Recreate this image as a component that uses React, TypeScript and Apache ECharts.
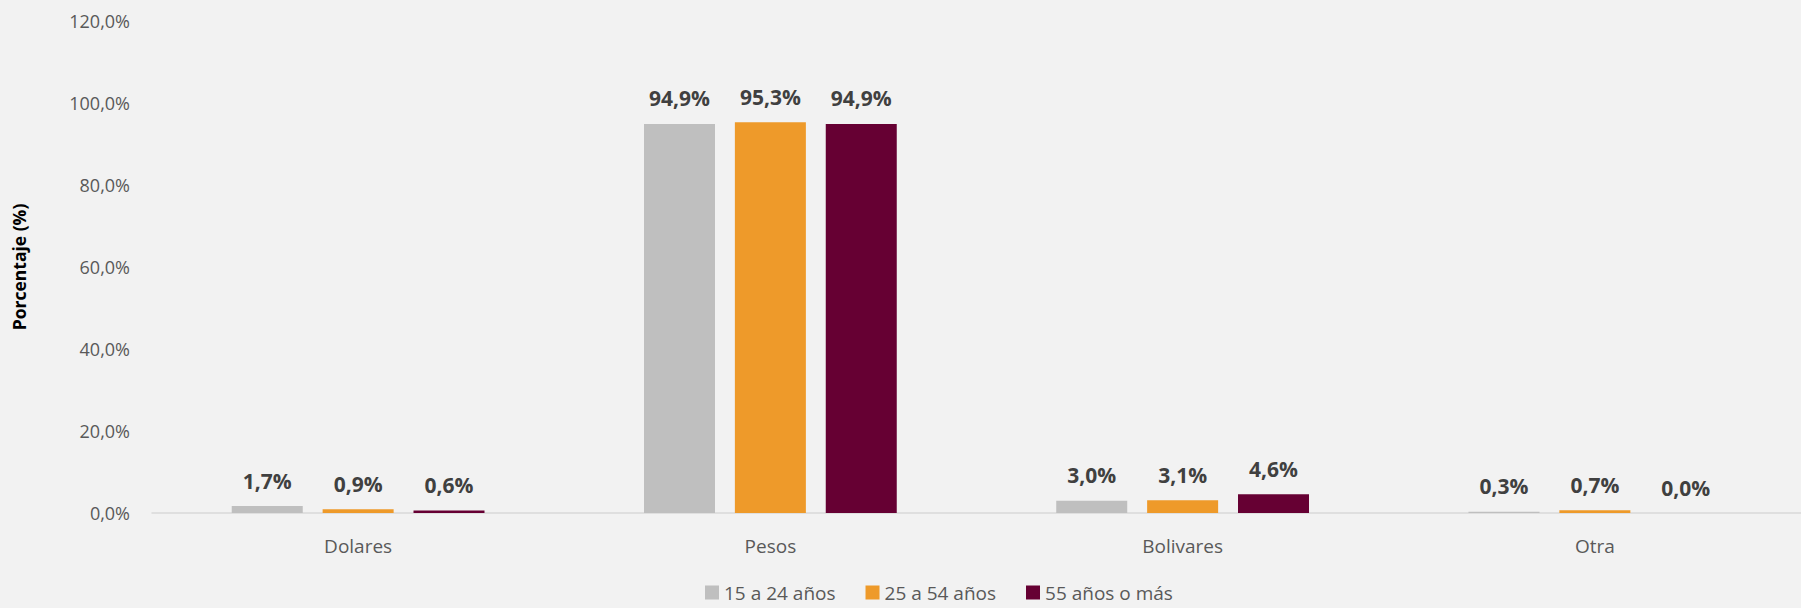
import React, { useEffect, useRef } from "react";
import * as echarts from "echarts";

const categories = ["Dolares", "Pesos", "Bolivares", "Otra"];
const seriesNames = ["15 a 24 años", "25 a 54 años", "55 años o más"];
const values15a24 = [1.7, 94.9, 3.0, 0.3];
const values25a54 = [0.9, 95.3, 3.1, 0.7];
const values55mas = [0.6, 94.9, 4.6, 0.0];
const colors = ["#BFBFBF", "#EE9A2A", "#660033"];

const fmt = (v: number) => v.toFixed(1).replace(".", ",") + "%";

export default function App() {
  const ref = useRef<HTMLDivElement>(null);
  useEffect(() => {
    if (!ref.current) return;
    const chart = echarts.init(ref.current, undefined, { renderer: "svg" });
    const font = "'Open Sans', 'Noto Sans', sans-serif";
    const data = [values15a24, values25a54, values55mas];
    chart.setOption({
      animation: false,
      backgroundColor: "#F2F2F2",
      textStyle: { fontFamily: font },
      grid: { left: 152, right: 0, top: 21, bottom: 95, containLabel: false },
      legend: {
        left: 700,
        bottom: 1,
        itemWidth: 14,
        itemHeight: 14,
        itemGap: 30,
        icon: "rect",
        textStyle: { color: "#595959", fontSize: 19, fontFamily: font },
        data: seriesNames,
      },
      xAxis: {
        type: "category",
        data: categories,
        axisLine: { lineStyle: { color: "#D9D9D9", width: 1.5 } },
        axisTick: { show: false },
        axisLabel: { color: "#595959", fontSize: 19, margin: 23, fontFamily: font },
      },
      yAxis: {
        type: "value",
        min: 0,
        max: 120,
        interval: 20,
        name: "Porcentaje (%)",
        nameLocation: "middle",
        nameGap: 124,
        nameTextStyle: { color: "#000000", fontWeight: "bold", fontSize: 17.5, fontFamily: font },
        axisLine: { show: false },
        axisTick: { show: false },
        splitLine: { show: false },
        axisLabel: { color: "#595959", fontSize: 18, margin: 22, formatter: (v: number) => fmt(v), fontFamily: font },
      },
      series: seriesNames.map((name, i) => ({
        name,
        type: "bar",
        data: data[i],
        barWidth: 71,
        barGap: "28%",
        itemStyle: { color: colors[i] },
        label: {
          show: true,
          position: "top",
          distance: 15,
          color: "#404040",
          fontWeight: "bold",
          fontSize: 21,
          fontFamily: font,
          formatter: (p: any) => fmt(p.value),
        },
      })),
    });
    return () => chart.dispose();
  }, []);
  return (
    <div
      ref={ref}
      style={{ position: "fixed", left: 0, top: 0, width: 1801, height: 608 }}
    />
  );
}
